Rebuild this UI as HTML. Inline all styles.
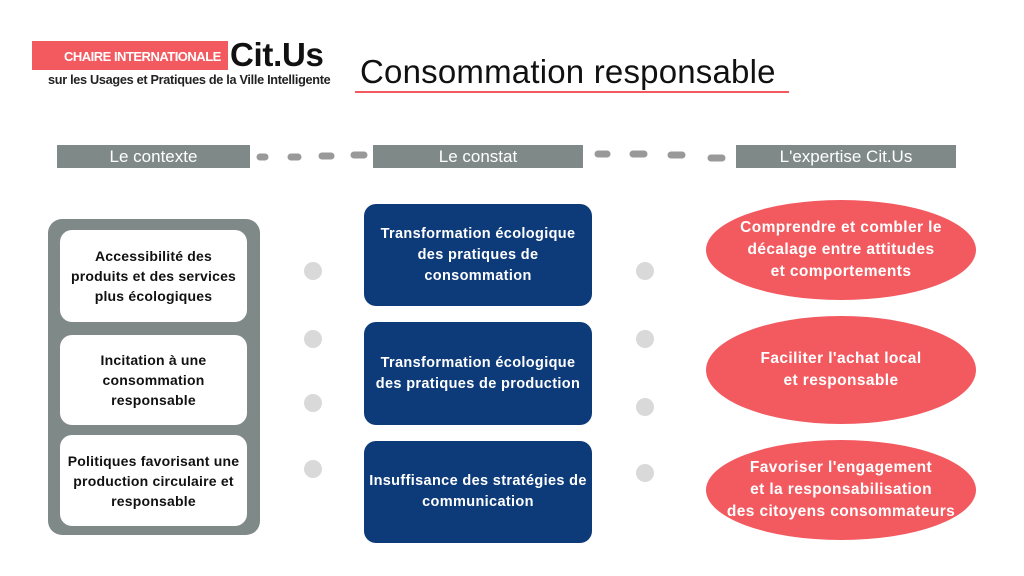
<!DOCTYPE html>
<html><head><meta charset="utf-8"><style>
*{margin:0;padding:0;box-sizing:border-box}
body{width:1024px;height:576px;background:#fff;position:relative;overflow:hidden;font-family:"Liberation Sans",sans-serif}
.a{position:absolute}
.c{display:flex;align-items:center;justify-content:center;text-align:center}
.hd{background:#7f8a88;color:#fff;font-size:17px;height:23px;top:145px}
.w{background:#fff;border-radius:12px;left:60px;width:187px;font-weight:bold;font-size:14px;line-height:20px;color:#111;letter-spacing:0.2px}
.b{background:#0d3b7a;border-radius:12px;left:364px;width:228px;color:#fff;font-weight:bold;font-size:14.5px;line-height:21px;letter-spacing:0.35px}
.r{background:#f25a60;border-radius:50%;left:706px;width:270px;color:#fff;font-weight:bold;font-size:15.5px;line-height:22px;letter-spacing:0.4px}
.d{width:18px;height:18px;border-radius:50%;background:#d9d9d9}
</style></head><body>
<div class="a" style="left:32px;top:41px;width:196px;height:29px;background:#f25a60"></div>
<div class="a" style="left:64px;top:49px;color:#fff;font-weight:bold;font-size:13px;letter-spacing:-0.5px">CHAIRE INTERNATIONALE</div>
<div class="a" style="left:230px;top:36px;color:#111;font-weight:bold;font-size:33px;letter-spacing:-0.3px">Cit.Us</div>
<div class="a" style="left:48px;top:73px;color:#222;font-weight:bold;font-size:12.7px;letter-spacing:-0.3px">sur les Usages et Pratiques de la Ville Intelligente</div>
<div class="a" style="left:360px;top:53px;color:#111;font-size:33px;letter-spacing:0.2px">Consommation responsable</div>
<div class="a" style="left:355px;top:91px;width:434px;height:2px;background:#f25a60"></div>

<div class="a c hd" style="left:57px;width:193px">Le contexte</div>
<div class="a c hd" style="left:373px;width:210px">Le constat</div>
<div class="a c hd" style="left:736px;width:220px">L'expertise Cit.Us</div>
<svg class="a" style="left:0;top:0" width="1024" height="576">
<g stroke="#999" stroke-width="7" stroke-linecap="round">
<line x1="260" y1="157" x2="265" y2="157"/>
<line x1="291" y1="157" x2="298" y2="157"/>
<line x1="322" y1="156" x2="331" y2="156"/>
<line x1="354" y1="155" x2="364" y2="155"/>
<line x1="598" y1="154" x2="607" y2="154"/>
<line x1="633" y1="154" x2="644" y2="154"/>
<line x1="671" y1="155" x2="682" y2="155"/>
<line x1="711" y1="158" x2="722" y2="158"/>
</g>
</svg>

<div class="a" style="left:48px;top:219px;width:212px;height:316px;background:#7f8a88;border-radius:14px"></div>
<div class="a c w" style="top:230px;height:92px">Accessibilité des<br>produits et des services<br>plus écologiques</div>
<div class="a c w" style="top:335px;height:90px">Incitation à une<br>consommation<br>responsable</div>
<div class="a c w" style="top:435px;height:91px">Politiques favorisant une<br>production circulaire et<br>responsable</div>

<div class="a d" style="left:304px;top:262px"></div>
<div class="a d" style="left:304px;top:330px"></div>
<div class="a d" style="left:304px;top:394px"></div>
<div class="a d" style="left:304px;top:460px"></div>
<div class="a d" style="left:636px;top:262px"></div>
<div class="a d" style="left:636px;top:330px"></div>
<div class="a d" style="left:636px;top:398px"></div>
<div class="a d" style="left:636px;top:464px"></div>

<div class="a c b" style="top:204px;height:102px">Transformation écologique<br>des pratiques de<br>consommation</div>
<div class="a c b" style="top:322px;height:103px">Transformation écologique<br>des pratiques de production</div>
<div class="a c b" style="top:441px;height:102px">Insuffisance des stratégies de<br>communication</div>

<div class="a c r" style="top:200px;height:100px">Comprendre et combler le<br>décalage entre attitudes<br>et comportements</div>
<div class="a c r" style="top:316px;height:108px">Faciliter l'achat local<br>et responsable</div>
<div class="a c r" style="top:440px;height:100px">Favoriser l'engagement<br>et la responsabilisation<br>des citoyens consommateurs</div>
</body></html>
